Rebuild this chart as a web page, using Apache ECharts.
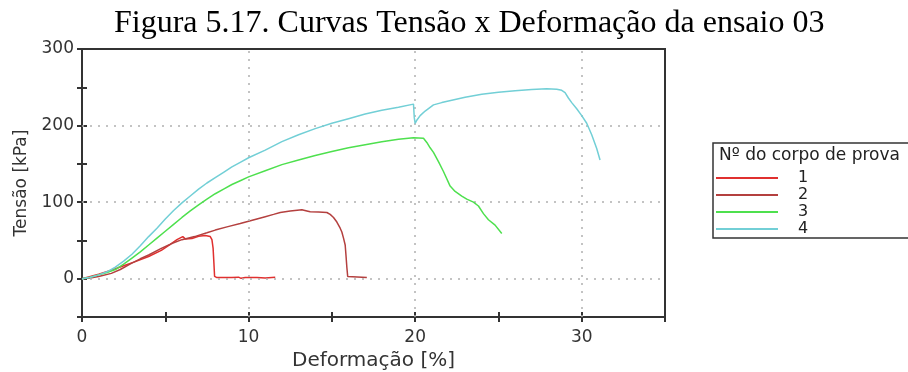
<!DOCTYPE html>
<html>
<head>
<meta charset="utf-8">
<script src="https://cdn.jsdelivr.net/npm/echarts@6/dist/echarts.min.js"></script>
<style>
  html, body { margin: 0; padding: 0; background: #fff; }
  #chart { width: 908px; height: 372px; }
</style>
</head>
<body>
<div id="chart"></div>
<script>
// Stress–strain curves, test 03: [strain %, stress kPa]
const specimenNames = ['1', '2', '3', '4'];
const specimenColors = ['#e0302f', '#b4403f', '#4ee04e', '#72cfd6'];

const curve1 = [[0,0],[0.5,3],[1,6],[1.76,11],[2.5,17],[3.16,22],[4,29],[4.76,37],[5.3,45],[5.7,51],[6.05,55],[6.2,52],[6.3,50.5],[6.6,52.5],[7,55.5],[7.4,56.5],[7.7,55],[7.8,51],[7.87,40],[7.92,20],[7.96,3],[8.1,1.5],[9,1.5],[9.4,2],[9.55,0.5],[9.65,3],[9.8,1.5],[10.5,1.5],[11,1],[11.6,2]];

const curve2 = [[0,0],[0.5,1],[1,3],[1.76,7],[2.3,12],[2.96,20],[3.5,26],[4,31],[4.76,39.6],[5.5,47],[6,51],[6.76,55],[7.5,60],[8,63.5],[8.76,68],[9.5,72],[10,75],[10.5,78],[11,81],[11.5,84],[11.9,86.5],[12.5,88.5],[13.2,90],[13.5,88.5],[13.7,87.5],[14.2,87],[14.7,86.5],[14.9,84],[15.1,80],[15.3,74],[15.5,66],[15.6,61],[15.7,53],[15.8,44],[15.85,30],[15.9,15],[15.95,3],[16.05,1.5],[17.1,1.5]];

const curve3 = [[0,0],[0.5,2],[1,5],[1.5,8],[2,12],[2.5,19],[3,27],[3.5,35],[4,44],[4.5,53],[5,62],[5.5,71],[6,80],[6.5,88.5],[7,96.5],[7.5,104],[8,111],[8.5,117],[9,123],[9.5,128],[10,133],[11,141],[12,149],[13,155],[14,161],[15,166],[16,171],[17,175],[18,179],[19,182],[19.9,184],[20.5,183.5],[20.7,178],[20.9,171],[21.1,165],[21.4,153],[21.7,140],[22.1,121],[22.4,114],[22.8,108],[23.1,104],[23.5,100],[23.8,95],[24.1,85],[24.4,77],[24.8,70],[25.2,59]];

const curve4 = [[0,0],[0.5,2],[1,5],[1.5,9],[2,15],[2.5,23],[3,32],[3.5,43],[4,55],[4.5,66],[5,78],[5.5,89],[6,99],[6.5,108],[7,117],[7.5,125],[8,132],[8.5,139],[9,146],[9.5,152],[10,158],[11,168],[12,179],[13,188],[14,196],[15,203],[16,209],[17,215],[18,220],[19,224],[19.9,228],[19.95,210],[20.0,203],[20.1,207],[20.3,213],[20.6,219],[21.1,227],[21.6,230],[22,232],[23,237],[24,241],[25,243.5],[26,245.5],[27,247],[27.9,248.2],[28.5,247.5],[28.8,246],[29.0,243],[29.2,236],[29.4,230],[29.7,222],[30,213],[30.3,203],[30.6,188],[30.9,170],[31.1,155]];

const curves = [curve1, curve2, curve3, curve4];

// Axis ranges and gridline positions
const xRange = [0, 35];
const yRange = [-50, 300];
const xGridValues = [10, 20, 30];
const yGridValues = [0, 100, 200];

const axisFont = 'DejaVu Sans, Verdana, sans-serif';
const axisColor = '#333';

function valueAxis(range, isX, main) {
  return {
    type: 'value',
    min: range[0],
    max: range[1],
    interval: isX ? 5 : 50,
    position: isX ? 'bottom' : 'left',
    axisLine: { show: main, onZero: false, lineStyle: { color: axisColor, width: 2 } },
    axisTick: { show: true, inside: !main, length: 5, lineStyle: { color: axisColor, width: 2 } },
    axisLabel: {
      show: main,
      margin: isX ? 12 : 8,
      fontFamily: axisFont,
      fontSize: 17,
      color: '#333',
      formatter: v => (v >= 0 && v % (isX ? 10 : 100) === 0) ? String(v) : ''
    },
    splitLine: { show: false }
  };
}

const gridLineStyle = { color: '#b0b0b0', width: 1.5, type: [2, 6] };

const series = curves.map((data, i) => ({
  name: specimenNames[i],
  type: 'line',
  data: data,
  showSymbol: false,
  symbol: 'none',
  lineStyle: { color: specimenColors[i], width: 1.5 },
  itemStyle: { color: specimenColors[i] },
  z: 3 + i
}));

// dotted reference gridlines at the major ticks
series.unshift({
  type: 'line',
  data: [],
  silent: true,
  z: 1,
  markLine: {
    silent: true,
    symbol: ['none', 'none'],
    label: { show: false },
    lineStyle: gridLineStyle,
    animation: false,
    data: xGridValues.map(v => ({ xAxis: v })).concat(yGridValues.map(v => ({ yAxis: v })))
  }
});

const chart = echarts.init(document.getElementById('chart'), null, { renderer: 'canvas' });
chart.setOption({
  animation: false,
  backgroundColor: '#fff',
  title: [
    {
      text: 'Figura 5.17. Curvas Tensão x Deformação da ensaio 03',
      left: 114,
      top: 8,
      padding: 0,
      textStyle: { fontFamily: 'Liberation Serif, Times New Roman, serif', fontSize: 32, fontWeight: 'normal', color: '#000' }
    },
    {
      text: 'Nº do corpo de prova',
      left: 719,
      top: 147,
      padding: 0,
      textStyle: { fontFamily: axisFont, fontSize: 17, fontWeight: 'normal', color: '#222' }
    }
  ],
  grid: {
    left: 82, right: 243, top: 49, bottom: 55,
    containLabel: false,
    outerBoundsMode: 'none',
    show: true, borderColor: axisColor, borderWidth: 2, backgroundColor: 'transparent'
  },
  legend: {
    data: specimenNames,
    orient: 'vertical',
    left: 713,
    top: 143,
    padding: [27, 140, 1, 3],
    icon: 'rect',
    itemWidth: 62,
    itemHeight: 2,
    itemGap: 1,
    borderColor: '#333',
    borderWidth: 1.5,
    selectedMode: false,
    textStyle: { fontFamily: axisFont, fontSize: 16, color: '#222', lineHeight: 13, padding: [0, 0, 0, 15] }
  },
  xAxis: [
    Object.assign(valueAxis(xRange, true, true), {
      name: 'Deformação [%]',
      nameLocation: 'middle',
      nameGap: 34,
      nameTextStyle: { fontFamily: axisFont, fontSize: 20, color: '#333' }
    }),
    valueAxis(xRange, true, false)
  ],
  yAxis: [
    Object.assign(valueAxis(yRange, false, true), {
      name: 'Tensão [kPa]',
      nameLocation: 'middle',
      nameGap: 52,
      nameTextStyle: { fontFamily: axisFont, fontSize: 17, color: '#333' }
    }),
    valueAxis(yRange, false, false)
  ],
  series: series
});
</script>
</body>
</html>
